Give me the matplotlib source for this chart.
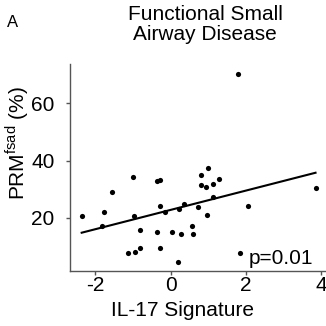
import numpy as np
import matplotlib
matplotlib.use('Agg')
from matplotlib import pyplot as plt

plt.rcParams['font.family'] = ['Liberation Sans', 'DejaVu Sans']
plt.rcParams['mathtext.fontset'] = 'custom'
plt.rcParams['mathtext.rm'] = 'Liberation Sans'
plt.rcParams['axes.unicode_minus'] = False

# IL-17 signature score vs PRM fSAD (%)
il17 = [-2.36, -1.81, -1.77, -1.56, -0.99, -0.98, -0.81, -0.82, -0.37, -0.27,
        -0.36, -0.28, -0.27, -0.15, 0.03, 0.22, 0.35, 0.29, 0.56, 0.59,
        0.73, 0.80, 0.80, 0.93, 1.00, 0.98, 1.12, 1.13, 1.29, 1.80,
        2.07, 3.85, -1.12, -0.95, 0.21, 1.84]
prm = [20.4, 17.1, 22.0, 29.1, 34.1, 20.4, 15.7, 9.5, 32.8, 33.0,
       14.9, 24.2, 9.2, 21.8, 15.0, 23.0, 24.6, 14.2, 17.2, 14.2,
       23.7, 34.8, 31.5, 30.7, 37.5, 21.0, 31.6, 27.1, 33.4, 70.4,
       24.2, 30.5, 7.65, 7.8, 4.5, 7.55]
xticks = [-2, 0, 2, 4]
yticks = [20, 40, 60]

x = np.asarray(il17)
y = np.asarray(prm)
slope, icpt = np.polyfit(x, y, 1)
xs = np.array([x.min(), x.max()])
print(slope, icpt, slope*xs + icpt)

W = 326.0
fig = plt.figure(figsize=(3.26, 3.26), dpi=100)
ax = fig.add_axes([70/W, 55/W, 270/W, 207/W])

ax.scatter(x, y, s=14, color='black', zorder=3, linewidths=0)
ax.plot(xs, slope*xs + icpt, color='black', linewidth=1.5)

ax.set_xlim(-2.67, 4.5)
ax.set_ylim(1.3, 73.8)
ax.set_xticks(xticks)
ax.set_yticks(yticks)
ax.tick_params(labelsize=15, color='#555555', length=3, width=1)
ax.tick_params(axis='x', pad=0.5)
ax.tick_params(axis='y', pad=8)
for s in ['top', 'right']:
    ax.spines[s].set_visible(False)
for s in ['left', 'bottom']:
    ax.spines[s].set_color('#555555')
    ax.spines[s].set_linewidth(1)

ax.text(2.08, 3.7, 'p=0.01', fontsize=15, va='baseline', ha='left')
ax.set_xlabel('IL-17 Signature', fontsize=15)
ax.xaxis.set_label_coords(0.415, -0.145)
ax.set_ylabel(r'PRM$^{\mathrm{fsad}}$ (%)', fontsize=15, va='center')
ax.yaxis.set_label_coords(-0.196, 0.616)

# two-line title, placed by baseline
fig.text(205/W, 1 - 20/W, 'Functional Small', fontsize=15,
         ha='center', va='baseline')
fig.text(205/W, 1 - 40/W, 'Airway Disease', fontsize=15,
         ha='center', va='baseline')
fig.text(7/W, 1 - 26.7/W, 'A', fontsize=12, ha='left', va='baseline')

fig.savefig('out.png', dpi=100)
